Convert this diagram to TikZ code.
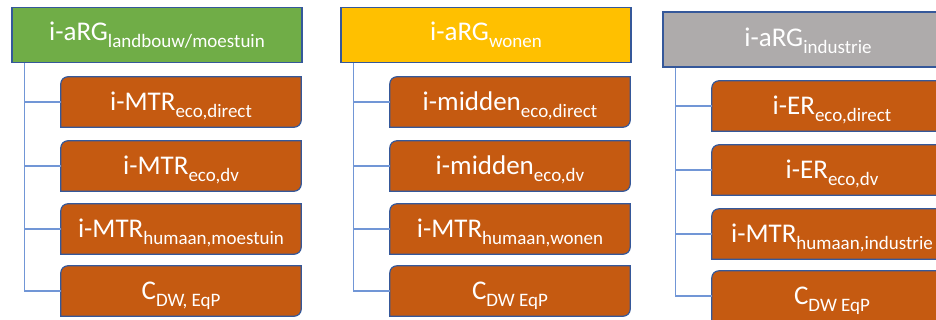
\documentclass[tikz,border=0pt]{standalone}
\usepackage{fontspec}
\setmainfont{Carlito}
\definecolor{hgreen}{HTML}{70AD47}
\definecolor{hyellow}{HTML}{FFC000}
\definecolor{hgray}{HTML}{AEABAB}
\definecolor{corange}{HTML}{C55A11}
\definecolor{bordblue}{HTML}{35589A}
\definecolor{connblue}{HTML}{7196D6}
\newcommand\sbs[1]{\raisebox{-6.7pt}{\fontsize{19}{19}\selectfont #1}}
\tikzset{
  headbox/.style={draw=bordblue, line width=1.2pt, minimum width=290pt, minimum height=55pt, inner sep=0pt},
  childpos/.style={minimum width=240pt, minimum height=50pt, inner sep=0pt},
  childshape/.style={draw=bordblue, fill=corange, line width=1.2pt},
  lbl/.style={anchor=base, text=white, font=\fontsize{27}{27}\selectfont, inner sep=0pt},
  conn/.style={draw=connblue, line width=1.1pt},
}
\newcommand\childbox[3]{% name, x, y
  \node[childpos] (#1) at (#2,#3) {};
  \draw[childshape] ([yshift=-7pt]#1.north west) arc[start angle=180,end angle=90,radius=7pt]
    -- (#1.north east) -- ([yshift=7pt]#1.south east) arc[start angle=0,end angle=-90,radius=7pt]
    -- (#1.south west) -- cycle;
}
\begin{document}
\begin{tikzpicture}[x=1pt,y=-1pt]
\clip (0,0) rectangle (936,320);
\fill[white] (0,0) rectangle (936,320);
% column 1
\node[headbox, fill=hgreen] (h1) at (157,35) {};
\childbox{c11}{181}{102}
\childbox{c12}{181}{166}
\childbox{c13}{181}{229}
\childbox{c14}{181}{291}
% column 2
\node[headbox, fill=hyellow] (h2) at (486,35) {};
\childbox{c21}{510}{102}
\childbox{c22}{510}{166}
\childbox{c23}{510}{229}
\childbox{c24}{510}{291}
% column 3
\node[headbox, fill=hgray] (h3) at (808,39.5) {};
\childbox{c31}{832}{106}
\childbox{c32}{832}{170}
\childbox{c33}{832}{234}
\childbox{c34}{832}{296}
% connectors
\foreach \c in {1,2,3}{
  \coordinate (t\c) at ([xshift=13.5pt]h\c.south west);
  \draw[conn] (t\c) |- (c\c4.west);
  \foreach \k in {1,2,3}{
    \draw[conn] (t\c |- c\c\k.west) -- (c\c\k.west);
  }
}
% labels
\node[lbl] (l1) at ([yshift=-6pt]h1.center) {i-aRG\sbs{landbouw/moestuin}};
\node[lbl] (l2) at ([yshift=-6pt]h2.center) {i-aRG\sbs{wonen}};
\node[lbl] (l3) at ([yshift=-7pt]h3.center) {i-aRG\sbs{industrie}};
\node[lbl] (m11) at ([yshift=-8.7pt]c11.center) {i-MTR\sbs{eco,direct}};
\node[lbl] (m12) at ([yshift=-8.7pt]c12.center) {i-MTR\sbs{eco,dv}};
\node[lbl] (m13) at ([yshift=-8.7pt]c13.center) {i-MTR\sbs{humaan,moestuin}};
\node[lbl] (m14) at ([yshift=-8.7pt]c14.center) {C\sbs{DW, EqP}};
\node[lbl] (m21) at ([yshift=-8.7pt]c21.center) {i-midden\sbs{eco,direct}};
\node[lbl] (m22) at ([yshift=-8.7pt]c22.center) {i-midden\sbs{eco,dv}};
\node[lbl] (m23) at ([yshift=-8.7pt]c23.center) {i-MTR\sbs{humaan,wonen}};
\node[lbl] (m24) at ([yshift=-8.7pt]c24.center) {C\sbs{DW EqP}};
\node[lbl] (m31) at ([yshift=-8.7pt]c31.center) {i-ER\sbs{eco,direct}};
\node[lbl] (m32) at ([yshift=-8.7pt]c32.center) {i-ER\sbs{eco,dv}};
\node[lbl] (m33) at ([yshift=-8.7pt]c33.center) {i-MTR\sbs{humaan,industrie}};
\node[lbl] (m34) at ([yshift=-8.7pt]c34.center) {C\sbs{DW EqP}};
\end{tikzpicture}
\end{document}
